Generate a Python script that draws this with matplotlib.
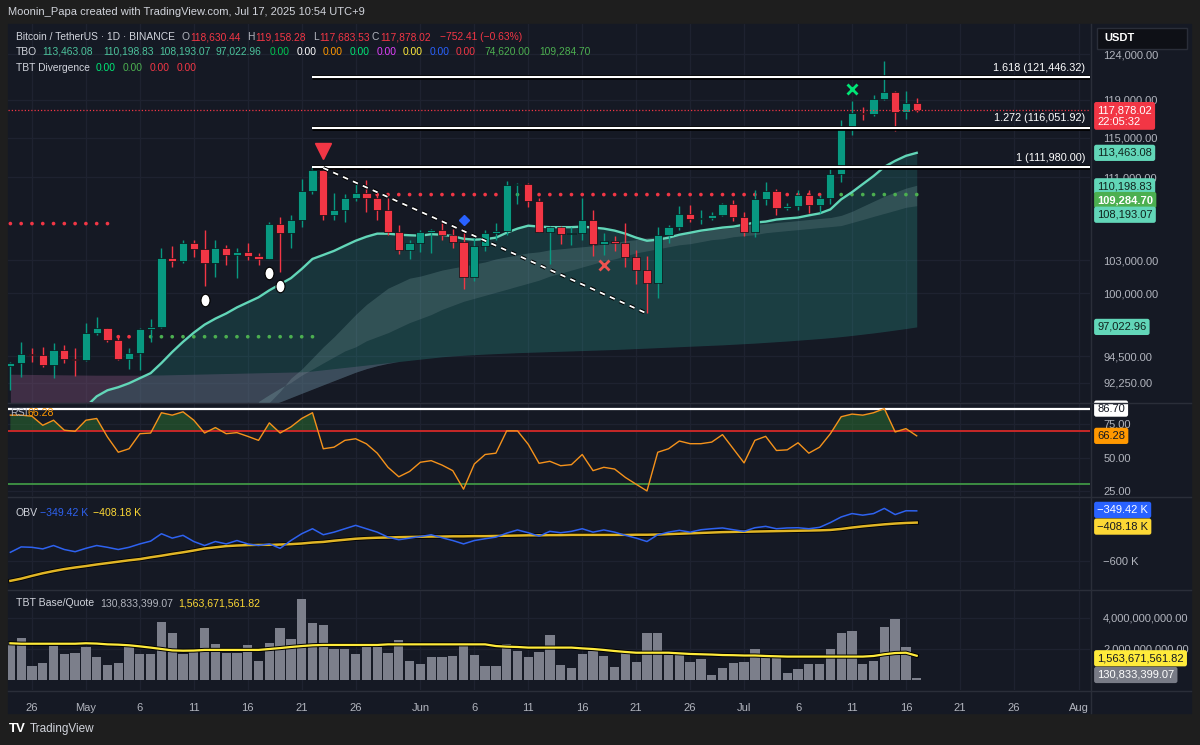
import numpy as np
import pandas as pd
import matplotlib
matplotlib.use("Agg")
import matplotlib.pyplot as plt
import matplotlib.patheffects as pe
from matplotlib.patches import Rectangle
from matplotlib.lines import Line2D
from matplotlib.path import Path
from matplotlib.transforms import Affine2D
from matplotlib.ticker import NullLocator, NullFormatter
from matplotlib import font_manager as fm

names = {f.name for f in fm.fontManager.ttflist}
FONT = "Liberation Sans" if "Liberation Sans" in names else "DejaVu Sans"
plt.rcParams["font.family"] = [FONT, "DejaVu Sans"]

# ---------------- data (BTC/USDT 1D, Apr 24 - Jul 17 2025) ----------------
dates = pd.date_range("2025-04-24", "2025-07-17", freq="D")

opens = [93700, 93950, 94700, 94600, 93750, 95050, 94250, 94200, 96500, 96900,
         95900, 94300, 94750, 96850, 97050, 103250, 102950, 104650, 104100, 102800,
         104150, 103550, 103750, 103450, 103100, 106450, 105600, 106800, 109650, 111700,
         107300, 107800, 108900, 109450, 108950, 107800, 105650, 103950, 104600, 105700,
         105850, 105400, 104700, 101500, 104300, 105600, 105750, 110250, 110300, 108650,
         105700, 106100, 105450, 105550, 106800, 104550, 104850, 104650, 103300, 102100,
         100950, 105350, 106100, 107350, 106950, 107050, 107300, 108400, 107150, 105700,
         108850, 109600, 107950, 108200, 109200, 108250, 108950, 111300, 115950, 117550,
         117450, 119100, 119850, 117750, 118630.44]
highs = [94000, 95700, 95200, 95250, 95600, 95450, 95200, 97400, 97900, 96950,
         96300, 95200, 96900, 97700, 104150, 104300, 104950, 104950, 105850, 104950,
         104400, 104200, 104600, 103700, 106650, 107100, 107300, 110800, 111980, 111800,
         109450, 109300, 110400, 110700, 109300, 108900, 106300, 104900, 105900, 105950,
         106800, 105950, 105950, 105300, 105900, 106500, 110650, 110450, 110400, 108950,
         106200, 106200, 106100, 108950, 107750, 105550, 105250, 106500, 104000, 103400,
         106100, 106300, 108150, 108300, 107800, 107600, 108500, 108800, 107550, 109750,
         110550, 109800, 108450, 109750, 109700, 109200, 111999, 116850, 118850, 118200,
         119500, 123200, 119950, 120000, 119158.28]
lows = [91650, 92750, 94000, 93550, 92700, 93900, 92850, 94100, 96300, 95750,
        94150, 93450, 93300, 95750, 96900, 102350, 102800, 103300, 100700, 101450,
        102600, 101400, 103050, 102600, 103100, 101950, 104200, 106150, 109300, 106800,
        106850, 106600, 108700, 107550, 106800, 105350, 103600, 103100, 103800, 103700,
        104900, 104200, 100400, 101100, 103900, 104900, 105350, 108350, 108100, 105650,
        102650, 104500, 104450, 104950, 103400, 103550, 103900, 102350, 100850, 98200,
        99600, 104650, 105900, 106600, 106400, 106800, 107200, 106750, 105250, 105150,
        108300, 107250, 107800, 107800, 107450, 107500, 108350, 110550, 115250, 116900,
        117250, 118950, 115750, 116950, 117683.53]
closes = [93950, 94700, 94600, 93750, 95050, 94250, 94200, 96500, 96900, 95900,
          94300, 94750, 96850, 97050, 103250, 102950, 104650, 104100, 102800, 104150,
          103550, 103750, 103450, 103100, 106450, 105600, 106800, 109650, 111700, 107300,
          107800, 108900, 109450, 108950, 107800, 105650, 103950, 104600, 105700, 105850,
          105400, 104700, 101500, 104300, 105600, 105750, 110250, 110300, 108650, 105700,
          106100, 105450, 105550, 106800, 104550, 104850, 104650, 103300, 102100, 100950,
          105350, 106100, 107350, 106950, 107050, 107300, 108400, 107150, 105700, 108850,
          109600, 107950, 108200, 109200, 108250, 108950, 111300, 115950, 117550, 117450,
          119100, 119850, 117750, 118650, 117878.02]

# TBO fast line (starts at day index 6)
fast_start = 6
fast_line = [89500, 90300, 91150, 91650, 91900, 92230, 92650, 93070, 93920, 94860,
             95730, 96520, 97220, 97750, 98200, 98740, 99190, 99640, 100270, 100820,
             101370, 102210, 103140, 103510, 103890, 104370, 104840, 105220, 105510, 105510,
             105410, 105360, 105320, 105460, 105410, 105270, 105030, 104940, 104990, 105130,
             105600, 105990, 106270, 106180, 106130, 106130, 106130, 106180, 106090, 105990,
             105800, 105510, 105130, 104840, 104940, 105130, 105410, 105600, 105800, 105940,
             106090, 106180, 106370, 106570, 106660, 106860, 106960, 107050, 107260, 107450,
             107840, 108820, 109520, 110320, 111120, 112040, 112650, 113160, 113463.08]
# TBO slow lines
s1_start = 23
slow1 = [89900, 90650, 91560, 92650, 93410, 94350, 95300, 96170, 97130, 98110,
         99000, 99730, 100460, 100910, 101370, 101560, 101830, 102110, 102300, 102480,
         102670, 102860, 103140, 103330, 103510, 103700, 103800, 103990, 104080, 104180,
         104270, 104370, 104560, 104650, 104840, 104940, 105130, 105220, 105320, 105410,
         105600, 105700, 105890, 105990, 106090, 106280, 106370, 106470, 106570, 106660,
         106760, 106860, 106960, 107050, 107260, 107650, 108140, 108630, 109120, 109520,
         109920, 110198.83]
s2_start = 22
slow2 = [90230, 90730, 91290, 91820, 92300, 92900, 93410, 93930, 94440, 94950,
         95300, 95820, 96170, 96520, 96960, 97400, 97750, 98110, 98560, 98920,
         99280, 99550, 99820, 100090, 100360, 100640, 100910, 101190, 101560, 101830,
         102110, 102390, 102670, 102950, 103140, 103420, 103700, 103890, 104080, 104270,
         104460, 104560, 104750, 104940, 105030, 105220, 105320, 105410, 105600, 105700,
         105800, 105890, 105990, 106090, 106180, 106280, 106570, 106860, 107160, 107450,
         107740, 108040, 108193.07]
slow3 = [92980, 92970, 92960, 92950, 92940, 92930, 92920, 92910, 92900, 92900,
         92900, 92900, 92900, 92910, 92920, 92940, 92960, 92980, 93000, 93020,
         93040, 93060, 93080, 93100, 93120, 93140, 93160, 93180, 93250, 93350,
         93450, 93550, 93650, 93750, 93850, 93950, 94050, 94150, 94250, 94350,
         94450, 94520, 94580, 94630, 94680, 94720, 94760, 94800, 94830, 94860,
         94890, 94920, 94950, 94980, 95010, 95040, 95070, 95110, 95150, 95190,
         95230, 95270, 95310, 95350, 95390, 95430, 95470, 95520, 95570, 95620,
         95680, 95740, 95800, 95870, 95940, 96010, 96090, 96180, 96280, 96390,
         96500, 96620, 96750, 96880, 97022.96]
# lower cloud edge (below the pane on the left, meets slow3 at day 38)
slow4 = [86000] * 24 + [90400, 90700, 91050, 91400, 91750, 92100, 92450, 92800,
                        93150, 93450, 93700, 93900, 94050, 94150] + slow3[38:]

# dotted TBO levels: (first day, last day, price)
level_a = (0, 9, 106470)
level_b = (10, 28, 96170)
level_c = (29, 33, 111930)
level_d = (34, 84, 109284.70)
level_b_green = list(range(12, 29))
level_d_green = [46, 47, 70] + list(range(76, 85))

fib_levels = [1.618, 1.272, 1.0]
fib_prices = [121446.32, 116051.92, 111980.00]
fib_start = 28
trend_pts = [(29, 111930), (59, 98200)]

sell_marker = (29, 113680)
drop_markers = [(18, 99370), (24, 101830), (25, 100640)]
diamond_marker = (42, 106860)
red_x = (55, 102580)
green_x = (78, 120160)

price_ticks = [92250, 94500, 100000, 103000, 111000, 115000, 119000, 124000]

rsi = [81.8, 81.8, 81.0, 74.2, 78.0, 70.5, 69.7, 78.0, 79.3, 65.4,
       54.0, 56.6, 67.9, 68.4, 83.6, 81.8, 84.3, 78.0, 68.4, 72.5,
       67.9, 68.7, 65.9, 62.9, 76.0, 68.4, 73.0, 79.3, 83.6, 56.6,
       57.8, 62.9, 64.1, 60.3, 53.3, 42.7, 35.6, 39.6, 46.5, 47.7,
       44.4, 40.2, 26.3, 45.2, 52.3, 53.3, 70.0, 70.0, 59.9, 45.7,
       47.2, 43.9, 44.7, 52.3, 40.2, 42.7, 41.4, 35.1, 30.0, 25.0,
       54.0, 56.6, 62.4, 60.4, 60.4, 61.6, 67.2, 56.6, 46.0, 62.9,
       65.9, 55.3, 55.8, 61.1, 53.3, 57.8, 67.9, 80.6, 82.6, 81.8,
       83.6, 86.7, 69.2, 71.7, 66.28]
rsi_upper, rsi_lower, rsi_max = 70, 30, 86.70

obv_k = [-557, -530, -532, -540, -523, -543, -554, -537, -523, -532,
         -543, -532, -515, -501, -464, -486, -472, -503, -523, -503,
         -515, -498, -515, -523, -515, -537, -498, -464, -439, -469,
         -456, -439, -422, -439, -456, -481, -494, -486, -478, -469,
         -484, -498, -515, -498, -489, -481, -461, -445, -459, -476,
         -452, -459, -452, -439, -456, -445, -456, -472, -486, -503,
         -469, -456, -447, -456, -444, -439, -435, -444, -452, -434,
         -427, -439, -435, -434, -439, -432, -408, -380, -363, -371,
         -363, -337, -368, -349, -349.42]
obv_ma_k = [-700, -689, -675, -662, -651, -641, -633, -626, -618, -611,
            -604, -597, -591, -582, -574, -565, -557, -548, -538, -532,
            -526, -523, -521, -520, -520, -518, -516, -513, -508, -505,
            -499, -494, -489, -486, -484, -483, -481, -480, -479, -478,
            -478, -477, -477, -476, -476, -475, -474, -473, -472, -472,
            -471, -471, -470, -470, -470, -470, -470, -470, -469, -469,
            -468, -466, -464, -462, -460, -458, -456, -455, -454, -453,
            -452, -451, -450, -449, -448, -447, -445, -440, -433, -427,
            -422, -417, -413, -410, -408.18]

volume = [2.47e9, 2.69e9, 0.90e9, 1.08e9, 2.19e9, 1.68e9, 1.76e9, 2.15e9, 1.51e9, 0.97e9,
          1.08e9, 2.19e9, 1.68e9, 1.68e9, 3.76e9, 3.01e9, 1.68e9, 1.83e9, 3.33e9, 2.32e9,
          1.76e9, 1.76e9, 2.26e9, 1.25e9, 2.41e9, 3.33e9, 2.62e9, 5.20e9, 3.66e9, 3.55e9,
          1.98e9, 1.98e9, 1.68e9, 2.41e9, 2.15e9, 1.72e9, 2.58e9, 1.25e9, 1.03e9, 1.46e9,
          1.46e9, 1.55e9, 2.26e9, 1.61e9, 0.90e9, 0.90e9, 2.32e9, 1.89e9, 1.46e9, 1.83e9,
          2.90e9, 0.97e9, 0.75e9, 1.68e9, 1.89e9, 1.55e9, 0.82e9, 1.76e9, 1.18e9, 3.01e9,
          3.01e9, 1.61e9, 1.83e9, 1.18e9, 1.33e9, 0.32e9, 0.75e9, 1.12e9, 1.18e9, 1.98e9,
          1.61e9, 1.40e9, 0.47e9, 0.69e9, 1.03e9, 1.03e9, 1.98e9, 3.01e9, 3.18e9, 1.03e9,
          1.25e9, 3.44e9, 3.91e9, 2.15e9, 130833399.07]
volume_ma = [2.37e9, 2.34e9, 2.34e9, 2.34e9, 2.34e9, 2.34e9, 2.34e9, 2.37e9, 2.35e9, 2.30e9,
             2.28e9, 2.24e9, 2.17e9, 2.09e9, 2.00e9, 1.91e9, 1.89e9, 1.90e9, 1.94e9, 1.94e9,
             1.94e9, 1.94e9, 1.94e9, 1.94e9, 2.00e9, 2.06e9, 2.13e9, 2.19e9, 2.24e9, 2.26e9,
             2.26e9, 2.26e9, 2.26e9, 2.26e9, 2.26e9, 2.30e9, 2.30e9, 2.30e9, 2.30e9, 2.30e9,
             2.30e9, 2.30e9, 2.30e9, 2.30e9, 2.30e9, 2.19e9, 2.15e9, 2.13e9, 2.09e9, 2.09e9,
             2.09e9, 2.09e9, 2.09e9, 2.04e9, 2.00e9, 1.94e9, 1.87e9, 1.81e9, 1.76e9, 1.76e9,
             1.76e9, 1.76e9, 1.72e9, 1.68e9, 1.66e9, 1.64e9, 1.61e9, 1.60e9, 1.58e9, 1.58e9,
             1.55e9, 1.53e9, 1.51e9, 1.51e9, 1.51e9, 1.51e9, 1.51e9, 1.51e9, 1.51e9, 1.51e9,
             1.55e9, 1.66e9, 1.74e9, 1.76e9, 1563671561.82]

tick_dates = ["2025-04-26", "2025-05-01", "2025-05-06", "2025-05-11", "2025-05-16",
              "2025-05-21", "2025-05-26", "2025-06-01", "2025-06-06", "2025-06-11",
              "2025-06-16", "2025-06-21", "2025-06-26", "2025-07-01", "2025-07-06",
              "2025-07-11", "2025-07-16", "2025-07-21", "2025-07-26", "2025-08-01"]
tick_labels = ["26", "May", "6", "11", "16", "21", "26", "Jun", "6", "11", "16",
               "21", "26", "Jul", "6", "11", "16", "21", "26", "Aug"]

# ---------------- styling ----------------
BG = "#151924"
OUTER = "#1e1e1e"
GRID = "#1e2230"
TXT = "#b2b5be"
UP, DOWN = "#089981", "#f23645"
MINT = "#62d6b8"
W, H = 1200, 745

idx = np.arange(len(dates))
tick_idx = [(pd.Timestamp(d) - dates[0]).days for d in tick_dates]
X_LEFT, X_RIGHT = -0.22, 100.06

fig = plt.figure(figsize=(12, 7.45), dpi=100)
fig.patch.set_facecolor(OUTER)
fig.add_artist(Rectangle((8 / W, 1 - 713 / H), 1183 / W, 689 / H,
                         transform=fig.transFigure, color=BG, zorder=-10))


def px_axes(x0, y0, x1, y1):
    return fig.add_axes([x0 / W, 1 - y1 / H, (x1 - x0) / W, (y1 - y0) / H])


def ftext(x, y, s, color=TXT, size=7.6, **kw):
    fig.text(x / W, 1 - y / H, s, color=color, fontsize=size, va="center", **kw)


def setup(ax, ylim, yticks, ylabels, log=False):
    ax.set_facecolor("none")
    if log:
        ax.set_yscale("log")
    ax.set_xlim(X_LEFT, X_RIGHT)
    ax.set_ylim(*ylim)
    for s in ax.spines.values():
        s.set_visible(False)
    ax.set_xticks(tick_idx)
    ax.set_yticks(yticks)
    ax.set_yticklabels(ylabels)
    ax.yaxis.set_minor_locator(NullLocator())
    ax.yaxis.set_minor_formatter(NullFormatter())
    ax.tick_params(axis="y", left=False, right=False, labelleft=False,
                   labelright=True, pad=6, labelsize=8, labelcolor=TXT)
    ax.tick_params(axis="x", bottom=False, labelbottom=False)
    ax.grid(True, color=GRID, lw=0.9)
    ax.set_axisbelow(True)


def tag(ax, value, text, fc, tc, dy=0, weight="normal"):
    ax.annotate(text, xy=(1, value), xycoords=("axes fraction", "data"),
                xytext=(5.2, -dy * 0.72), textcoords="offset points", ha="left",
                va="center", color=tc, fontsize=8, fontweight=weight,
                annotation_clip=False, zorder=20,
                bbox=dict(boxstyle="round,pad=0.28,rounding_size=0.2", fc=fc, ec="none"))


# ---------------- main price pane ----------------
ax = px_axes(8, 24, 1090, 402)
setup(ax, (90687, 127402), price_ticks, [f"{p:,.2f}" for p in price_ticks], log=True)

fast_idx = np.arange(fast_start, fast_start + len(fast_line))
s1_idx = np.arange(s1_start, s1_start + len(slow1))
s2_idx = np.arange(s2_start, s2_start + len(slow2))
fast = np.array(fast_line)
s3 = np.array(slow3)
s4 = np.array(slow4)

# cloud layers
ax.fill_between(idx, s4, s3, where=s3 > s4, interpolate=True,
                color="#7a4d74", alpha=0.42, lw=0, zorder=1)
ax.fill_between(fast_idx, s4[fast_start:], fast, where=fast > s4[fast_start:],
                interpolate=True, color="#26a69a", alpha=0.2, lw=0, zorder=1)
ax.fill_between(s2_idx, s4[s2_start:], np.array(slow2),
                color="#4db6ac", alpha=0.07, lw=0, zorder=1)
ax.fill_between(s1_idx, np.array(slow2[1:]), np.array(slow1),
                color="#b2dfdb", alpha=0.17, lw=0, zorder=1)

# dotted levels
for (a, b, p), green in [(level_a, []), (level_b, level_b_green),
                         (level_c, []), (level_d, level_d_green)]:
    xs = np.arange(a, b + 1)
    cols = ["#4caf50" if x in green else "#f23645" for x in xs]
    ax.scatter(xs, [p] * len(xs), s=7, c=cols, zorder=2, lw=0)

ax.plot(fast_idx, fast, color=MINT, lw=1.7, zorder=3)

# candles
o, h, l, c = map(np.array, (opens, highs, lows, closes))
cols = np.where(c >= o, UP, DOWN)
ax.vlines(idx, l, h, colors=cols, lw=1.0, zorder=4)
body_lo = np.minimum(o, c)
body_h = np.maximum(np.abs(c - o), 90)
ax.bar(idx, body_h, bottom=body_lo, width=0.76, color=cols,
       edgecolor="#0b0e14", linewidth=0.5, zorder=5)

# fib lines and labels
outline = [pe.Stroke(linewidth=3.4, foreground="#000000"), pe.Normal()]
for lvl, p in zip(fib_levels, fib_prices):
    ax.hlines(p, fib_start, X_RIGHT, color="white", lw=1.5, zorder=6, path_effects=outline)
    lab = f"{lvl:g} ({p:,.2f})"
    ax.annotate(lab, xy=(0.9955, p), xycoords=("axes fraction", "data"),
                xytext=(0, 7), textcoords="offset points", ha="right", va="center",
                color="white", fontsize=7.8, zorder=7)

# trend line
(tx0, ty0), (tx1, ty1) = trend_pts
ax.plot([tx0, tx1], [ty0, ty1], color="white", lw=1.3, ls=(0, (3, 3)), zorder=6,
        path_effects=[pe.Stroke(linewidth=2.8, foreground="#000000"), pe.Normal()])

# current price line
ax.axhline(closes[-1], color="#f23645", lw=0.9, ls=(0, (1, 1.6)), zorder=6)

# signal markers
ax.plot(*sell_marker, marker="v", color="#f23645", ms=11, zorder=8)
drop = Path.unit_circle().transformed(Affine2D().scale(0.72, 1.0))
for x, y in drop_markers:
    ax.plot(x, y, marker=drop, color="white", mec="#000000", mew=0.8, ms=9, zorder=8)
ax.plot(*diamond_marker, marker="D", color="#2962ff", ms=5.5, zorder=8)
ax.plot(*red_x, marker="x", color="#ef5350", ms=6.5, mew=2, zorder=8)
ax.plot(*green_x, marker="x", color="#00e676", ms=6.5, mew=2, zorder=8)

# right-hand value tags
tag(ax, closes[-1], f"{closes[-1]:,.2f}\n22:05:32", "#f23645", "white", dy=5.5)
tag(ax, fast_line[-1], f"{fast_line[-1]:,.2f}", MINT, "#10231d")
tag(ax, slow1[-1], f"{slow1[-1]:,.2f}", MINT, "#10231d", dy=1)
tag(ax, level_d[2], f"{level_d[2]:,.2f}", "#4caf50", "white", dy=5.5, weight="bold")
tag(ax, slow2[-1], f"{slow2[-1]:,.2f}", MINT, "#10231d", dy=9)
tag(ax, slow3[-1], f"{slow3[-1]:,.2f}", MINT, "#10231d")

# ---------------- RSI pane ----------------
ax_r = px_axes(8, 403, 1090, 496)
setup(ax_r, (21.2, 90.9), [25, 50, 75], ["25.00", "50.00", "75.00"])
rsi_a = np.array(rsi)
ax_r.fill_between(idx, rsi_upper, rsi_a, where=rsi_a > rsi_upper, interpolate=True,
                  color="#2e7d32", alpha=0.45, lw=0)
ax_r.axhline(rsi_max, color="white", lw=1.6)
ax_r.axhline(rsi_upper, color="#c62828", lw=1.4)
ax_r.axhline(rsi_lower, color="#43a047", lw=1.2)
ax_r.plot(idx, rsi_a, color="#f5921b", lw=1.0)
tag(ax_r, rsi_max, f"{rsi_max:.2f}", "white", "#131722")
tag(ax_r, rsi[-1], f"{rsi[-1]:.2f}", "#ff9800", "#131722")

# ---------------- OBV pane ----------------
ax_o = px_axes(8, 497, 1090, 589)
setup(ax_o, (-740.8, -280.0), [-600], ["\u2212600 K"])
ax_o.plot(idx, obv_ma_k, color="#e0b526", lw=1.8,
          path_effects=[pe.Stroke(linewidth=3.0, foreground="#000000"), pe.Normal()])
ax_o.plot(idx, obv_k, color="#2e62f0", lw=1.1)
tag(ax_o, obv_k[-1], f"\u2212{abs(obv_k[-1]):.2f} K", "#2962ff", "white", dy=-1)
tag(ax_o, obv_ma_k[-1], f"\u2212{abs(obv_ma_k[-1]):.2f} K", "#fdd835", "#131722", dy=4)

# ---------------- volume pane ----------------
vol_bn = np.array(volume) / 1e9
vol_ma_bn = np.array(volume_ma) / 1e9
ax_v = px_axes(8, 590, 1090, 690)
setup(ax_v, (-0.645, 5.806), [2, 4], ["2,000,000,000.00", "4,000,000,000.00"])
ax_v.bar(idx, vol_bn, width=0.86, color="#7c7f8b", zorder=2)
ax_v.plot(idx, vol_ma_bn, color="#ffeb3b", lw=1.6, zorder=3,
          path_effects=[pe.Stroke(linewidth=3.0, foreground="#000000"), pe.Normal()])
tag(ax_v, vol_ma_bn[-1], f"{volume_ma[-1]:,.2f}", "#ffeb3b", "#131722", dy=2.5)
tag(ax_v, vol_bn[-1], f"{volume[-1]:,.2f}", "#787b86", "white", dy=-3)
ax_v.tick_params(axis="x", labelbottom=True, labelsize=8, labelcolor=TXT, pad=6)
ax_v.set_xticklabels(tick_labels)

# pane separators
for yy in (402.5, 496.5, 589.5, 690.5):
    fig.add_artist(Line2D([8 / W, 1191 / W], [1 - yy / H] * 2, color="#2a2e39", lw=1))
fig.add_artist(Line2D([1090.5 / W] * 2, [1 - 24 / H, 1 - 713 / H], color="#2a2e39", lw=1))

# USDT box
fig.add_artist(Rectangle((1097 / W, 1 - 49 / H), 90 / W, 21 / H, transform=fig.transFigure,
                         fc="#0e1016", ec="#2a2e39", lw=1, zorder=30))
ftext(1104, 38, "USDT", color="white", size=8, fontweight="bold", zorder=31)

# ---------------- header / legends ----------------
ftext(8, 12, "Moonin_Papa created with TradingView.com, Jul 17, 2025 10:54 UTC+9",
      color="#d1d4dc", size=8)
RED = "#f23645"
line1 = [(16, "Bitcoin / TetherUS \u00b7 1D \u00b7 BINANCE", "#d1d4dc"),
         (182, "O", TXT), (190, f"{opens[-1]:,.2f}", RED),
         (247, "H", TXT), (255, f"{highs[-1]:,.2f}", RED),
         (313, "L", TXT), (319, f"{lows[-1]:,.2f}", RED),
         (372, "C", TXT), (380, f"{closes[-1]:,.2f}", RED),
         (440, "\u2212752.41 (\u22120.63%)", RED)]
TEAL_T = "#4cc29c"
line2 = [(16, "TBO", "#d1d4dc"), (42, f"{fast_line[-1]:,.2f}", TEAL_T),
         (103, f"{slow1[-1]:,.2f}", TEAL_T), (159, f"{slow2[-1]:,.2f}", TEAL_T),
         (216, f"{slow3[-1]:,.2f}", TEAL_T),
         (270, "0.00", "#00c853"), (297, "0.00", "white"), (323, "0.00", "#ff9800"),
         (350, "0.00", "#00e676"), (377, "0.00", "#e040fb"), (403, "0.00", "#ffeb3b"),
         (430, "0.00", "#2962ff"), (456, "0.00", "#f23645"),
         (484, "74,620.00", "#4caf50"), (539, f"{level_d[2]:,.2f}", "#4caf50")]
line3 = [(16, "TBT Divergence", "#d1d4dc"), (96, "0.00", "#00e676"),
         (123, "0.00", "#4caf50"), (150, "0.00", RED), (177, "0.00", RED)]
for yy, items in ((37, line1), (52, line2), (68, line3)):
    for x, s, col in items:
        ftext(x, yy, s, color=col, size=7.4)

ftext(10, 413, "RSI", color=TXT, size=7.6)
ftext(27, 413, f"{rsi[-1]:.2f}", color="#ff9800", size=7.6)
ftext(16, 513, "OBV", color="#d1d4dc", size=7.6)
ftext(40, 513, f"\u2212{abs(obv_k[-1]):.2f} K", color="#2e62f0", size=7.6)
ftext(93, 513, f"\u2212{abs(obv_ma_k[-1]):.2f} K", color="#fdd835", size=7.6)
ftext(16, 603, "TBT Base/Quote", color="#d1d4dc", size=7.6)
ftext(100, 603, f"{volume[-1]:,.2f}", color=TXT, size=7.6)
ftext(178, 603, f"{volume_ma[-1]:,.2f}", color="#fdd835", size=7.6)

# footer
ftext(9, 729, "TV", color="white", size=9.5, fontweight="bold")
ftext(30, 729, "TradingView", color="#d1d4dc", size=8.5)

fig.savefig("out.png", dpi=100, facecolor=fig.get_facecolor())
